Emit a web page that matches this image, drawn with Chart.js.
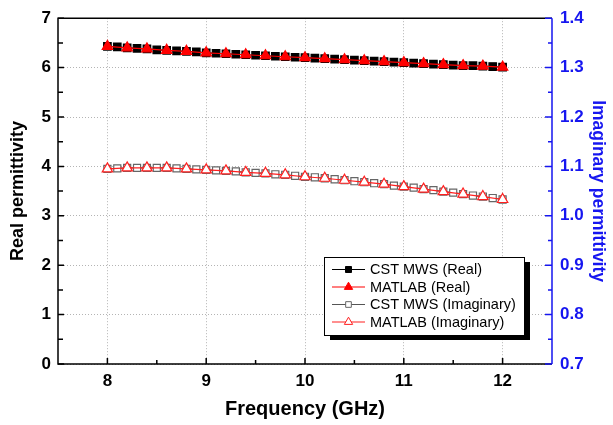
<!DOCTYPE html>
<html>
<head>
<meta charset="utf-8">
<script src="https://cdn.jsdelivr.net/npm/chart.js@4/dist/chart.umd.min.js"></script>
<style>
html, body { margin: 0; padding: 0; background: #fff; }
#grafica { display: block; }
</style>
</head>
<body>
<canvas id="grafica" width="613" height="425"></canvas>
<script>
var frecCST = [8.0, 8.1, 8.2, 8.3, 8.4, 8.5, 8.6, 8.7, 8.8, 8.9, 9.0, 9.1, 9.2, 9.3, 9.4, 9.5, 9.6, 9.7, 9.8, 9.9,
    10.0, 10.1, 10.2, 10.3, 10.4, 10.5, 10.6, 10.7, 10.8, 10.9, 11.0, 11.1, 11.2, 11.3, 11.4, 11.5, 11.6, 11.7, 11.8, 11.9, 12.0];
var frecMatlab = [8.0, 8.2, 8.4, 8.6, 8.8, 9.0, 9.2, 9.4, 9.6, 9.8, 10.0, 10.2, 10.4, 10.6, 10.8, 11.0, 11.2, 11.4, 11.6, 11.8, 12.0];

var realCST = [6.43, 6.42, 6.40, 6.39, 6.38, 6.36, 6.35, 6.34, 6.33, 6.32, 6.30, 6.29, 6.28, 6.27, 6.26, 6.25, 6.24, 6.23, 6.22, 6.21,
    6.20, 6.19, 6.18, 6.17, 6.16, 6.15, 6.14, 6.13, 6.12, 6.11, 6.10, 6.09, 6.08, 6.07, 6.06, 6.05, 6.04, 6.04, 6.03, 6.02, 6.01];
var realMatlab = [6.43, 6.40, 6.38, 6.35, 6.33, 6.30, 6.28, 6.26, 6.24, 6.22, 6.20, 6.18, 6.16, 6.14, 6.12, 6.10, 6.08, 6.06, 6.04, 6.03, 6.01];

var imagCST = [1.095, 1.096, 1.097, 1.097, 1.097, 1.097, 1.097, 1.096, 1.095, 1.094, 1.093, 1.092, 1.091, 1.090, 1.088, 1.087, 1.086, 1.084, 1.083, 1.081,
    1.079, 1.078, 1.076, 1.074, 1.072, 1.070, 1.068, 1.066, 1.064, 1.061, 1.059, 1.057, 1.054, 1.052, 1.049, 1.047, 1.044, 1.041, 1.039, 1.036, 1.033];
var imagMatlab = [1.095, 1.097, 1.097, 1.097, 1.095, 1.093, 1.091, 1.088, 1.086, 1.083, 1.079, 1.076, 1.072, 1.068, 1.064, 1.059, 1.054, 1.049, 1.044, 1.039, 1.033];

var ticksFrec = [8, 9, 10, 11, 12];
var ticksReal = [0, 1, 2, 3, 4, 5, 6, 7];
var ticksImag = [0.7, 0.8, 0.9, 1.0, 1.1, 1.2, 1.3, 1.4];

var AZUL = 'rgb(22,22,240)';
var FUENTE = '"Liberation Sans", Arial, sans-serif';

var puntos = function (xs, ys) {
    var lst = [];
    for (var i = 0; i < xs.length; i++) {
        lst.push({ x: xs[i], y: ys[i] });
    }
    return lst;
}

var fijarTicks = function (valores) {
    return function (scale) {
        scale.ticks = valores.map(function (v) { return { value: v }; });
    };
}

// marcas hacia dentro y marco del area
var ejesPlugin = {
    id: 'ejes',
    afterDatasetsDraw: function (chart) {
        var a = chart.chartArea;
        var ctx = chart.ctx;
        var sx = chart.scales.x, sy = chart.scales.y, sy1 = chart.scales.y1;
        ctx.save();
        ctx.lineWidth = 1.5;

        ctx.strokeStyle = '#000';
        ctx.beginPath();
        ctx.moveTo(a.right, a.top);
        ctx.lineTo(a.left, a.top);
        ctx.lineTo(a.left, a.bottom);
        ctx.lineTo(a.right, a.bottom);
        ctx.stroke();

        ctx.beginPath();
        ticksFrec.forEach(function (v, i) {
            var px = sx.getPixelForValue(v);
            ctx.moveTo(px, a.bottom); ctx.lineTo(px, a.bottom - 6);
            if (i < ticksFrec.length - 1) {
                var pm = sx.getPixelForValue((v + ticksFrec[i + 1]) / 2);
                ctx.moveTo(pm, a.bottom); ctx.lineTo(pm, a.bottom - 4);
            }
        });
        ticksReal.forEach(function (v, i) {
            var py = sy.getPixelForValue(v);
            ctx.moveTo(a.left, py); ctx.lineTo(a.left + 6, py);
            if (i < ticksReal.length - 1) {
                var pm = sy.getPixelForValue((v + ticksReal[i + 1]) / 2);
                ctx.moveTo(a.left, pm); ctx.lineTo(a.left + 5, pm);
            }
        });
        ctx.stroke();

        ctx.strokeStyle = AZUL;
        ctx.beginPath();
        ctx.moveTo(a.right, a.top);
        ctx.lineTo(a.right, a.bottom);
        ticksImag.forEach(function (v, i) {
            var py = sy1.getPixelForValue(v);
            ctx.moveTo(a.right, py); ctx.lineTo(a.right - 7, py);
            if (i < ticksImag.length - 1) {
                var pm = sy1.getPixelForValue((v + ticksImag[i + 1]) / 2);
                ctx.moveTo(a.right, pm); ctx.lineTo(a.right - 4, pm);
            }
        });
        ctx.stroke();
        ctx.restore();
    }
};

// leyenda con sombra dentro del area
var leyendaPlugin = {
    id: 'leyenda',
    afterDraw: function (chart) {
        var a = chart.chartArea;
        var ctx = chart.ctx;
        var x = a.right - 228, y = a.bottom - 107, w = 200, h = 78;
        ctx.save();
        ctx.fillStyle = '#000';
        ctx.fillRect(x + 6, y + 5, w, h);
        ctx.fillStyle = '#fff';
        ctx.fillRect(x, y, w, h);
        ctx.lineWidth = 1;
        ctx.strokeStyle = '#000';
        ctx.strokeRect(x + 0.5, y + 0.5, w, h);

        ctx.font = '14.5px ' + FUENTE;
        ctx.textBaseline = 'middle';
        chart.data.datasets.forEach(function (ds, i) {
            var fy = y + 12.5 + i * 17.5;
            ctx.strokeStyle = ds.borderColor;
            ctx.lineWidth = 1.2;
            ctx.beginPath();
            ctx.moveTo(x + 8, fy);
            ctx.lineTo(x + 41, fy);
            ctx.stroke();
            ctx.fillStyle = ds.pointBackgroundColor;
            ctx.strokeStyle = ds.pointBorderColor;
            ctx.lineWidth = 1;
            Chart.helpers.drawPoint(ctx, { pointStyle: ds.pointStyle, radius: ds.pointRadius * 0.8, rotation: 0, borderWidth: 1 }, x + 24.5, fy);
            ctx.fillStyle = '#000';
            ctx.fillText(ds.label, x + 46, fy + 0.5);
        });
        ctx.restore();
    }
};

var ctx = document.getElementById('grafica').getContext('2d');
var grafica = new Chart(ctx, {
    type: 'line',
    data: {
        datasets: [{
            label: 'CST MWS (Real)',
            data: puntos(frecCST, realCST),
            yAxisID: 'y',
            borderColor: '#000',
            borderWidth: 1.2,
            pointStyle: 'rect',
            pointRadius: 5.3,
            pointBackgroundColor: '#000',
            pointBorderColor: '#000',
            order: 2
        }, {
            label: 'MATLAB (Real)',
            data: puntos(frecMatlab, realMatlab),
            yAxisID: 'y',
            borderColor: '#ff0000',
            borderWidth: 1.2,
            pointStyle: 'triangle',
            pointRadius: 6,
            pointBackgroundColor: '#ff0000',
            pointBorderColor: '#ff0000',
            order: 1
        }, {
            label: 'CST MWS (Imaginary)',
            data: puntos(frecCST, imagCST),
            yAxisID: 'y1',
            borderColor: '#555',
            borderWidth: 1.2,
            pointStyle: 'rect',
            pointRadius: 5,
            pointBackgroundColor: '#fff',
            pointBorderColor: '#666',
            pointBorderWidth: 1.2,
            order: 2
        }, {
            label: 'MATLAB (Imaginary)',
            data: puntos(frecMatlab, imagMatlab),
            yAxisID: 'y1',
            borderColor: '#ff2020',
            borderWidth: 1.2,
            pointStyle: 'triangle',
            pointRadius: 6,
            pointBackgroundColor: '#fff',
            pointBorderColor: '#ff2020',
            pointBorderWidth: 1.2,
            order: 1
        }]
    },
    options: {
        responsive: false,
        animation: false,
        devicePixelRatio: 1,
        layout: { padding: { top: 16, left: 0, right: 0, bottom: 0 } },
        plugins: {
            legend: { display: false },
            tooltip: { enabled: false }
        },
        scales: {
            x: {
                type: 'linear',
                min: 7.5,
                max: 12.5,
                afterBuildTicks: fijarTicks(ticksFrec),
                afterFit: function (scale) { scale.height = 61; },
                grid: { color: '#b4b4b4', lineWidth: 1, drawTicks: false },
                border: { display: false, dash: [1, 2] },
                ticks: { color: '#000', padding: 7, maxRotation: 0, font: { family: FUENTE, size: 17, weight: 'bold' } },
                title: { display: true, text: 'Frequency (GHz)', color: '#000', padding: { top: 0, bottom: 4 }, font: { family: FUENTE, size: 20, weight: 'bold' } }
            },
            y: {
                position: 'left',
                min: 0,
                max: 7,
                afterBuildTicks: fijarTicks(ticksReal),
                afterFit: function (scale) { scale.width = 58; },
                grid: { color: '#b4b4b4', lineWidth: 1, drawTicks: false },
                border: { display: false, dash: [1, 2] },
                ticks: { color: '#000', padding: 7, font: { family: FUENTE, size: 17, weight: 'bold' } },
                title: { display: true, text: 'Real permittivity', color: '#000', padding: { top: 7, bottom: 0 }, font: { family: FUENTE, size: 18, weight: 'bold' } }
            },
            y1: {
                position: 'right',
                min: 0.7,
                max: 1.4,
                afterBuildTicks: fijarTicks(ticksImag),
                afterFit: function (scale) { scale.width = 61; },
                grid: { display: false, drawOnChartArea: false, drawTicks: false },
                border: { display: false },
                ticks: {
                    color: AZUL, padding: 8, font: { family: FUENTE, size: 17, weight: 'bold' },
                    callback: function (v) { return v.toFixed(1); }
                },
                title: { display: true, text: 'Imaginary permittivity', color: AZUL, padding: { top: 5, bottom: 0 }, font: { family: FUENTE, size: 17.5, weight: 'bold' } }
            }
        }
    },
    plugins: [ejesPlugin, leyendaPlugin]
});
</script>
</body>
</html>
